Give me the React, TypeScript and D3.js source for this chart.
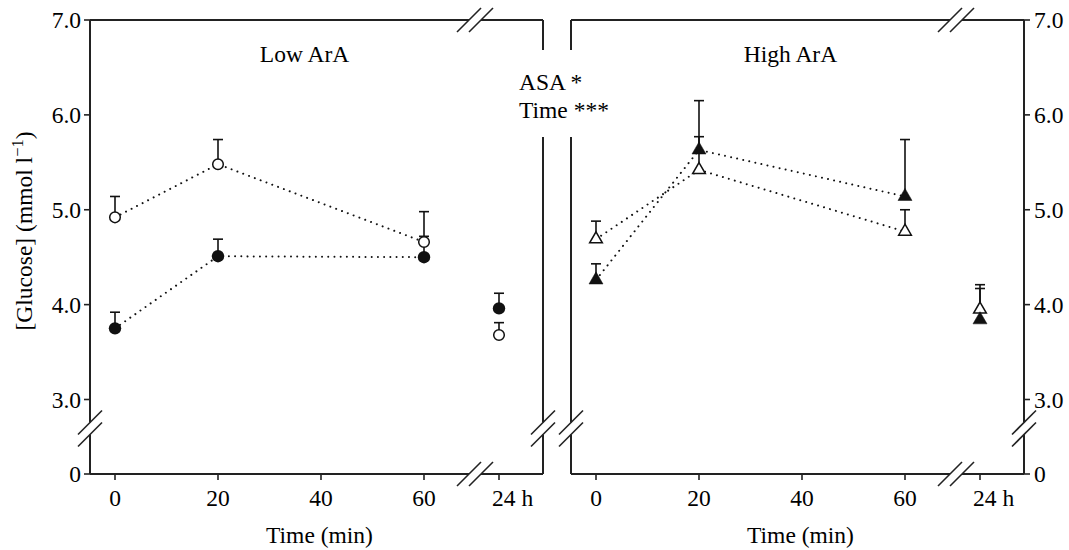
import React from "react";
import * as d3 from "d3";

// ---- data ----
const times = [0, 20, 60];
const lowOpenMean = [4.92, 5.48, 4.66];
const lowOpenSem = [0.22, 0.26, 0.32];
const lowOpen24Mean = 3.68;
const lowOpen24Sem = 0.13;
const lowFilledMean = [3.75, 4.51, 4.5];
const lowFilledSem = [0.17, 0.18, 0.22];
const lowFilled24Mean = 3.96;
const lowFilled24Sem = 0.16;
const highOpenMean = [4.69, 5.42, 4.77];
const highOpenSem = [0.19, 0.35, 0.23];
const highOpen24Mean = 3.95;
const highOpen24Sem = 0.26;
const highFilledMean = [4.26, 5.63, 5.14];
const highFilledSem = [0.17, 0.52, 0.6];
const highFilled24Mean = 3.84;
const highFilled24Sem = 0.33;
const yTicks = [7.0, 6.0, 5.0, 4.0, 3.0];
const xTicks = [0, 20, 40, 60];
const panelTitles = ["Low ArA", "High ArA"];
const statsLines = ["ASA *", "Time ***"];

const FONT = '"Liberation Serif", "Times New Roman", Times, serif';
const FS = 23.5;
const AX = "#222";
const TS: React.CSSProperties = { fontFamily: FONT, fontSize: FS };

const W = 1069, H = 550;
const top = 20, bottom = 474;
const panelW = 453;
const panels = [90, 571];

const y = d3.scaleLinear().domain([3, 7]).range([399.5, top]);
const yZero = bottom;

type Series = { mean: number[]; sem: number[]; m24: number; s24: number; shape: "circle" | "triangle"; filled: boolean };

const seriesLeft: Series[] = [
  { mean: lowOpenMean, sem: lowOpenSem, m24: lowOpen24Mean, s24: lowOpen24Sem, shape: "circle", filled: false },
  { mean: lowFilledMean, sem: lowFilledSem, m24: lowFilled24Mean, s24: lowFilled24Sem, shape: "circle", filled: true },
];
const seriesRight: Series[] = [
  { mean: highOpenMean, sem: highOpenSem, m24: highOpen24Mean, s24: highOpen24Sem, shape: "triangle", filled: false },
  { mean: highFilledMean, sem: highFilledSem, m24: highFilled24Mean, s24: highFilled24Sem, shape: "triangle", filled: true },
];

function HBreak({ cx, cy }: { cx: number; cy: number }) {
  return (
    <g>
      <line x1={cx - 6} x2={cx + 6} y1={cy} y2={cy} stroke="white" strokeWidth={4} />
      {[-6, 6].map((o) => (
        <line key={o} x1={cx + o - 12} y1={cy + 12} x2={cx + o + 12} y2={cy - 12} stroke={AX} strokeWidth={1.6} />
      ))}
    </g>
  );
}
function VBreak({ cx, cy }: { cx: number; cy: number }) {
  return (
    <g>
      <line x1={cx} x2={cx} y1={cy - 6} y2={cy + 6} stroke="white" strokeWidth={4} />
      {[-6, 6].map((o) => (
        <line key={o} x1={cx - 12} y1={cy + o + 12} x2={cx + 12} y2={cy + o - 12} stroke={AX} strokeWidth={1.6} />
      ))}
    </g>
  );
}

function Marker({ x, yv, s }: { x: number; yv: number; s: Series }) {
  if (s.shape === "circle") {
    return s.filled ? (
      <circle cx={x} cy={yv} r={6.2} fill="#111" />
    ) : (
      <circle cx={x} cy={yv} r={5.3} fill="white" stroke="#111" strokeWidth={1.5} />
    );
  }
  const path = d3.symbol(d3.symbolTriangle, s.filled ? 85 : 70)() as string;
  return (
    <path
      d={path}
      transform={`translate(${x},${yv})`}
      fill={s.filled ? "#111" : "white"}
      stroke="#111"
      strokeWidth={s.filled ? 0.5 : 1.5}
    />
  );
}

function ErrBar({ x, m, e }: { x: number; m: number; e: number }) {
  const y0 = y(m), y1 = y(m + e);
  return (
    <g stroke="#111" strokeWidth={1.6}>
      <line x1={x} x2={x} y1={y0} y2={y1} />
      <line x1={x - 5} x2={x + 5} y1={y1} y2={y1} />
    </g>
  );
}

function Panel({ idx, series }: { idx: number; series: Series[] }) {
  const x0 = panels[idx];
  const x1 = x0 + panelW;
  const x = d3.scaleLinear().domain([0, 60]).range([x0 + 25, x0 + 334]);
  const x24 = x(60) + 75;
  const xBreak = x(60) + 51;
  const yBreak = 428.5;
  const line = d3
    .line<number>()
    .x((_, i) => x(times[i]))
    .y((d) => y(d));
  const isLeft = idx === 0;
  const axisX = isLeft ? x0 : x1;
  const innerX = isLeft ? x1 : x0;
  const gapTop = 50, gapBot = 137;
  return (
    <g>
      <line x1={x0} x2={x1} y1={top} y2={top} stroke={AX} strokeWidth={2} />
      <line x1={x0} x2={x1} y1={bottom} y2={bottom} stroke={AX} strokeWidth={2} />
      <line x1={axisX} x2={axisX} y1={top} y2={bottom} stroke={AX} strokeWidth={2} />
      <line x1={innerX} x2={innerX} y1={top} y2={gapTop} stroke={AX} strokeWidth={2} />
      <line x1={innerX} x2={innerX} y1={gapBot} y2={bottom} stroke={AX} strokeWidth={2} />
      {yTicks.map((t) => (
        <g key={t}>
          <line
            x1={axisX}
            x2={isLeft ? axisX - 6 : axisX + 6}
            y1={y(t)}
            y2={y(t)}
            stroke={AX}
            strokeWidth={1.6}
          />
          <text
            x={isLeft ? axisX - 9 : axisX + 10}
            y={y(t)}
            dy="0.35em"
            textAnchor={isLeft ? "end" : "start"}
            style={TS}
          >
            {t.toFixed(1)}
          </text>
        </g>
      ))}
      <line x1={axisX} x2={isLeft ? axisX - 6 : axisX + 6} y1={yZero} y2={yZero} stroke={AX} strokeWidth={1.6} />
      <text
        x={isLeft ? axisX - 9 : axisX + 10}
        y={yZero}
        dy="0.35em"
        textAnchor={isLeft ? "end" : "start"}
        style={TS}
      >
        0
      </text>
      {xTicks.map((t) => (
        <g key={t}>
          <line x1={x(t)} x2={x(t)} y1={bottom} y2={bottom + 6} stroke={AX} strokeWidth={1.6} />
          <text x={x(t)} y={506} textAnchor="middle" style={TS}>
            {t}
          </text>
        </g>
      ))}
      <line x1={x24} x2={x24} y1={bottom} y2={bottom + 6} stroke={AX} strokeWidth={1.6} />
      <text x={x24 - 7} y={506} textAnchor="start" style={TS}>
        24 h
      </text>
      <HBreak cx={xBreak} cy={top} />
      <HBreak cx={xBreak} cy={bottom} />
      <VBreak cx={x0} cy={yBreak} />
      <VBreak cx={x1} cy={yBreak} />
      <text x={(x0 + x1) / 2 - (isLeft ? 12 : 7)} y={62} textAnchor="middle" style={TS}>
        {panelTitles[idx]}
      </text>
      <text x={(x0 + x1) / 2 + 3} y={543} textAnchor="middle" style={TS}>
        Time (min)
      </text>
      {series.map((s, i) => (
        <path
          key={"l" + i}
          d={line(s.mean) as string}
          fill="none"
          stroke="#111"
          strokeWidth={2}
          strokeDasharray="0.01 6.2"
          strokeLinecap="round"
        />
      ))}
      {series.map((s, i) => (
        <g key={"e" + i}>
          {s.mean.map((m, j) => (
            <ErrBar key={j} x={x(times[j])} m={m} e={s.sem[j]} />
          ))}
          <ErrBar x={x24} m={s.m24} e={s.s24} />
        </g>
      ))}
      {series.map((s, i) => (
        <g key={"m" + i}>
          {s.mean.map((m, j) => (
            <Marker key={j} x={x(times[j])} yv={y(m)} s={s} />
          ))}
          <Marker x={x24} yv={y(s.m24)} s={s} />
        </g>
      ))}
    </g>
  );
}

export default function App() {
  return (
    <svg width={W} height={H} style={{ position: "absolute", left: 0, top: 0, background: "white" }}>
      <rect width={W} height={H} fill="white" />
      <Panel idx={0} series={seriesLeft} />
      <Panel idx={1} series={seriesRight} />
      {statsLines.map((s, i) => (
        <text key={s} x={519} y={90 + i * 28} style={TS}>
          {s}
        </text>
      ))}
      <text transform="translate(32,231) rotate(-90)" textAnchor="middle" style={TS}>
        [Glucose] (mmol l
        <tspan style={{ fontSize: FS * 0.7 }} dy={-9}>
          −1
        </tspan>
        <tspan dy={9}>)</tspan>
      </text>
    </svg>
  );
}
